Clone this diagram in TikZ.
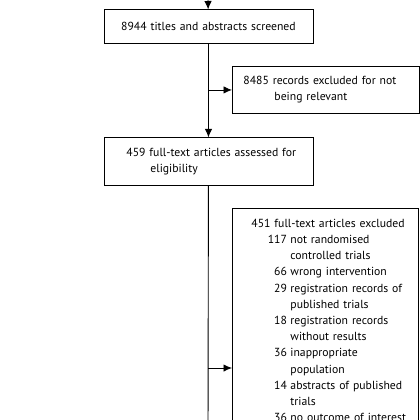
\documentclass[tikz,border=0pt]{standalone}
\usepackage{fontspec}
\setmainfont{PT Sans}
\usetikzlibrary{arrows.meta,positioning}
\newcommand{\nitem}[2]{\makebox[54.5pt][r]{#1}\hspace{3.5pt}#2}
\newcommand{\ncont}[1]{\hspace*{58pt}#1}

\begin{document}
\begin{tikzpicture}[x=1pt,y=1pt,box/.style={rectangle,draw=black,line width=0.9pt,inner xsep=0pt,inner ysep=4pt,font=\fontsize{11.7}{16.2}\selectfont},arrow/.style={-{Latex[length=8.5pt,width=7.5pt]},line width=0.9pt}]
\useasboundingbox (0,0) rectangle (420,-420);
\clip (0,0) rectangle (420,-420);
\node[box,align=center,text width=209pt,minimum height=33.5pt,anchor=north west](b1) at (103.5,-9.5){8944 titles and abstracts screened};
\node[box,align=left,text width=187pt,minimum height=47pt,anchor=north west](b2) at (232,-66){\hspace*{11pt}8485 records excluded for not\\\hspace*{42pt}being relevant};
\node[box,align=left,text width=209pt,minimum height=47.5pt,below=93.5pt of b1](b3){\hspace*{22.5pt}459 full-text articles assessed for\\\hspace*{46.5pt}eligibility};
\node[box,align=left,text width=186pt,inner ysep=10.5pt,anchor=north west](b4) at (232,-208){\hspace*{19pt}451 full-text articles excluded\\
\nitem{117}{not randomised}\\\ncont{controlled trials}\\
\nitem{66}{wrong intervention}\\
\nitem{29}{registration records of}\\\ncont{published trials}\\
\nitem{18}{registration records}\\\ncont{without results}\\
\nitem{36}{inappropriate}\\\ncont{population}\\
\nitem{14}{abstracts of published}\\\ncont{trials}\\
\nitem{36}{no outcome of interest}};
\coordinate (top) at (208,0);
\coordinate (bot) at (208,-440);
\coordinate (j4) at (208,-368);
\foreach \x/\y in {top/b1,b1/b3}{\draw[arrow](\x)--(\y);}
\draw[line width=0.9pt](b3)--(bot);
\draw[arrow](b1.south|-b2.west)--(b2.west);
\draw[arrow](j4)--(j4-|b4.west);
\end{tikzpicture}
\end{document}
